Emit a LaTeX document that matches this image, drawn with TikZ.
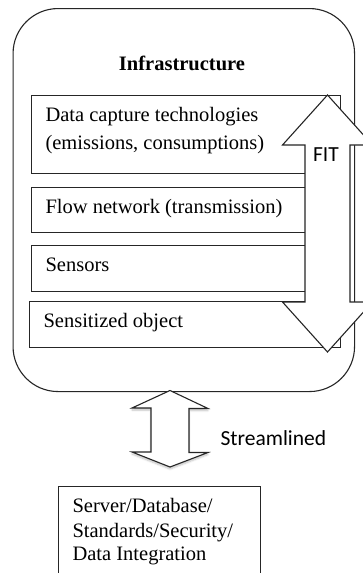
\documentclass[tikz,border=0pt]{standalone}
\usepackage{fontspec}
\setmainfont{Liberation Serif}
\newfontfamily\calibrifont{Carlito}
\usetikzlibrary{shadows.blur}
\begin{document}
\begin{tikzpicture}[x=1pt,y=-1pt,
  line width=1.1pt,
  layer/.style={draw=black!85, fill=white, inner sep=0pt, anchor=north west},
  label text/.style={anchor=base west, inner sep=0pt, font=\fontsize{20.5}{24}\selectfont},
  sans text/.style={anchor=base, inner sep=0pt, font=\calibrifont\fontsize{21.5}{24}\selectfont},
  bigarrow/.style={draw=black!85, fill=white, line join=miter}]
\useasboundingbox (0,0) rectangle (363,573);
\begin{scope}
\clip (0,0) rectangle (363,573);

% outer infrastructure frame
\node[draw=black!85, fill=white, rounded corners=45pt, inner sep=0pt,
      minimum width=341.5pt, minimum height=383pt, anchor=north west] (infra) at (12.5,8) {};
\node[anchor=base, inner sep=0pt, font=\bfseries\fontsize{20.5}{24}\selectfont] (title) at (182,70) {Infrastructure};

% stacked layers
\node[layer, minimum width=309pt, minimum height=78pt] (capture) at (31,95) {};
\node[layer, minimum width=309pt, minimum height=45pt] (flow) at (31,187) {};
\node[layer, minimum width=309pt, minimum height=46pt] (sensors) at (31,245) {};
\node[layer, minimum width=311pt, minimum height=46pt] (object) at (29,301) {};

\node[label text] (t1) at (45,121) {Data capture technologies};
\node[label text] (t2) at (45,149.5) {(emissions, consumptions)};
\node[label text] (t3) at (45,213) {Flow network (transmission)};
\node[label text] (t4) at (45,271) {Sensors};
\node[label text] (t5) at (43,327) {Sensitized object};

% FIT double arrow along the layers
\coordinate (fitTop) at (327.5,95);
\coordinate (fitBot) at (327.5,352);
\draw[bigarrow] (fitTop) -- ++(45,50) -- ++(-22.5,0) -- ++(0,157) -- ++(22.5,0)
  -- (fitBot) -- ++(-45,-50) -- ++(22.5,0) -- ++(0,-157) -- ++(-22.5,0) -- cycle;
\node[sans text] (fit) at (326,161) {FIT};

% streamlined link to the back end
\coordinate (stTop) at (170,390.5);
\coordinate (stBot) at (170,467);
\draw[bigarrow, blur shadow={shadow xshift=0pt, shadow yshift=-2pt, shadow opacity=25, shadow blur steps=6}]
  (stTop) -- ++(38,18) -- ++(-19,0) -- ++(0,44) -- ++(19,0)
  -- (stBot) -- ++(-38,-15) -- ++(19,0) -- ++(0,-44) -- ++(-19,0) -- cycle;
\node[sans text, anchor=base west] (stream) at (220,445) {Streamlined};

% back-end box
\node[layer, minimum width=202pt, minimum height=120pt] (server) at (58,486) {};
\node[label text] (s1) at (72,512) {Server/Database/};
\node[label text] (s2) at (72,537) {Standards/Security/};
\node[label text] (s3) at (72,560) {Data Integration};
\end{scope}
\end{tikzpicture}
\end{document}
